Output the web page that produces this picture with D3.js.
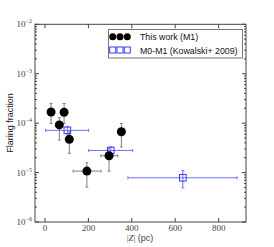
<!DOCTYPE html>
<html>
<head>
<meta charset="utf-8">
<script src="https://cdn.jsdelivr.net/npm/d3@7"></script>
<style>
  body { margin: 0; background: #fff; }
  svg { display: block; }
</style>
</head>
<body>
<svg width="274" height="247"></svg>
<script>
// This work (M1): |Z| in pc, flaring fraction, and error ranges.
const M1_Z = [28, 88, 66, 112, 193, 295, 352];
const M1_Z_LO = [14, 74, 52, 98, 130, 257, 338];
const M1_Z_HI = [42, 102, 80, 126, 258, 335, 366];
const M1_FRAC = [1.68e-4, 1.66e-4, 9.2e-5, 4.7e-5, 1.07e-5, 2.19e-5, 6.7e-5];
const M1_FRAC_LO = [9.9e-5, 9.9e-5, 4.55e-5, 2.45e-5, 5.1e-6, 1.07e-5, 3.3e-5];
const M1_FRAC_HI = [2.5e-4, 2.5e-4, 1.29e-4, 6.7e-5, 1.58e-5, 3.03e-5, 9.9e-5];

// M0-M1 (Kowalski+ 2009).
const K09_Z = [103, 303, 635];
const K09_Z_LO = [3, 201, 382];
const K09_Z_HI = [201, 404, 885];
const K09_FRAC = [7.15e-5, 2.8e-5, 7.85e-6];
const K09_FRAC_LO = [6.0e-5, 2.35e-5, 4.9e-6];
const K09_FRAC_HI = [8.5e-5, 3.3e-5, 1.09e-5];

const X_TICKS = [0, 200, 400, 600, 800];
const Y_TICKS = [1e-6, 1e-5, 1e-4, 1e-3, 1e-2];
const LEGEND_LABELS = ['This work (M1)', 'M0-M1 (Kowalski+ 2009)'];

const SERIF = '"Liberation Serif", "DejaVu Serif", serif';
const SANS = '"Liberation Sans", Arial, sans-serif';

const frame = {left: 35, right: 246, top: 24.3, bottom: 222};

const svg = d3.select('svg');
const x = d3.scaleLinear().domain([-46, 926]).range([frame.left, frame.right]);
const y = d3.scaleLog().domain([1e-6, 1e-2]).range([frame.bottom, frame.top]);

/**
 * Draws a set of error bars with small caps.
 */
function drawErrors(g, zs, zlo, zhi, fs, flo, fhi, color, cap) {
  zs.forEach((z, i) => {
    const cx = x(z);
    const cy = y(fs[i]);
    const segs = [
      [x(zlo[i]), cy, x(zhi[i]), cy],
      [cx, y(flo[i]), cx, y(fhi[i])],
      [x(zlo[i]), cy - cap, x(zlo[i]), cy + cap],
      [x(zhi[i]), cy - cap, x(zhi[i]), cy + cap],
      [cx - cap, y(flo[i]), cx + cap, y(flo[i])],
      [cx - cap, y(fhi[i]), cx + cap, y(fhi[i])],
    ];
    segs.forEach(s => {
      g.append('line')
          .attr('x1', s[0]).attr('y1', s[1])
          .attr('x2', s[2]).attr('y2', s[3])
          .attr('stroke', color)
          .attr('stroke-width', 1);
    });
  });
}

const plot = svg.append('g');

drawErrors(plot, M1_Z, M1_Z_LO, M1_Z_HI, M1_FRAC, M1_FRAC_LO, M1_FRAC_HI,
    '#808080', 1.5);
drawErrors(plot, K09_Z, K09_Z_LO, K09_Z_HI, K09_FRAC, K09_FRAC_LO, K09_FRAC_HI,
    '#7070ff', 1.5);

plot.selectAll('rect.k09')
    .data(K09_Z)
    .join('rect')
    .attr('class', 'k09')
    .attr('x', (d, i) => x(d) - 3.3)
    .attr('y', (d, i) => y(K09_FRAC[i]) - 3.3)
    .attr('width', 6.6)
    .attr('height', 6.6)
    .attr('fill', 'none')
    .attr('stroke', '#3838ff')
    .attr('stroke-width', 1);

plot.selectAll('circle.m1')
    .data(M1_Z)
    .join('circle')
    .attr('class', 'm1')
    .attr('cx', d => x(d))
    .attr('cy', (d, i) => y(M1_FRAC[i]))
    .attr('r', 4.5)
    .attr('fill', '#000');

// Frame and inward ticks on all four sides.
const axes = svg.append('g').attr('stroke', '#444').attr('stroke-width', 1);
axes.append('rect')
    .attr('x', frame.left).attr('y', frame.top)
    .attr('width', frame.right - frame.left)
    .attr('height', frame.bottom - frame.top)
    .attr('fill', 'none');

X_TICKS.forEach(t => {
  axes.append('line').attr('x1', x(t)).attr('x2', x(t))
      .attr('y1', frame.bottom).attr('y2', frame.bottom - 4);
  axes.append('line').attr('x1', x(t)).attr('x2', x(t))
      .attr('y1', frame.top).attr('y2', frame.top + 4);
});

const minorY = [];
for (let e = -6; e < -2; e++) {
  for (let m = 2; m < 10; m++) minorY.push(m * Math.pow(10, e));
}
minorY.forEach(t => {
  axes.append('line').attr('x1', frame.left).attr('x2', frame.left + 2)
      .attr('y1', y(t)).attr('y2', y(t));
  axes.append('line').attr('x1', frame.right).attr('x2', frame.right - 2)
      .attr('y1', y(t)).attr('y2', y(t));
});
Y_TICKS.forEach(t => {
  axes.append('line').attr('x1', frame.left).attr('x2', frame.left + 4)
      .attr('y1', y(t)).attr('y2', y(t));
  axes.append('line').attr('x1', frame.right).attr('x2', frame.right - 4)
      .attr('y1', y(t)).attr('y2', y(t));
});

// Tick labels.
svg.append('g').selectAll('text')
    .data(X_TICKS)
    .join('text')
    .attr('x', d => x(d))
    .attr('y', 231)
    .attr('text-anchor', 'middle')
    .attr('font-family', SERIF)
    .attr('font-size', 9)
    .attr('fill', '#444')
    .text(d => d);

const yLabels = svg.append('g').selectAll('text')
    .data(Y_TICKS)
    .join('text')
    .attr('x', 32)
    .attr('y', d => y(d) + 3)
    .attr('text-anchor', 'end')
    .attr('font-family', SERIF)
    .attr('font-size', 9)
    .attr('fill', '#444');
yLabels.append('tspan').text('10');
yLabels.append('tspan')
    .attr('dy', -4)
    .attr('font-size', 6)
    .text(d => '\u2212' + Math.round(-Math.log10(d)));

// Axis titles.
const xTitle = svg.append('text')
    .attr('x', 140)
    .attr('y', 241)
    .attr('text-anchor', 'middle')
    .attr('font-size', 9)
    .attr('fill', '#444');
xTitle.append('tspan').attr('font-family', SERIF).text('|');
xTitle.append('tspan').attr('font-family', SERIF).attr('font-style', 'italic')
    .text('Z');
xTitle.append('tspan').attr('font-family', SERIF).text('| ');
xTitle.append('tspan').attr('font-family', SANS).text('(pc)');

svg.append('text')
    .attr('transform', 'translate(13,123) rotate(-90)')
    .attr('text-anchor', 'middle')
    .attr('font-family', SANS)
    .attr('font-size', 9)
    .attr('fill', '#222')
    .text('Flaring fraction');

// Legend.
const legend = svg.append('g');
legend.append('rect')
    .attr('x', 108.5).attr('y', 29.5)
    .attr('width', 134).attr('height', 28.5)
    .attr('fill', '#fff')
    .attr('stroke', '#777')
    .attr('stroke-width', 1);
const legendX = [112.7, 120, 127.3];
legendX.forEach(lx => {
  legend.append('circle')
      .attr('cx', lx).attr('cy', 36.8).attr('r', 3.5)
      .attr('fill', '#000');
  legend.append('rect')
      .attr('x', lx - 3).attr('y', 47).attr('width', 6).attr('height', 6)
      .attr('fill', 'none')
      .attr('stroke', '#3838ff');
});
legend.selectAll('text.lab')
    .data(LEGEND_LABELS)
    .join('text')
    .attr('class', 'lab')
    .attr('x', 140)
    .attr('y', (d, i) => 40 + i * 13.5)
    .attr('font-family', SANS)
    .attr('font-size', 8.8)
    .attr('fill', '#111')
    .text(d => d);
</script>
</body>
</html>
